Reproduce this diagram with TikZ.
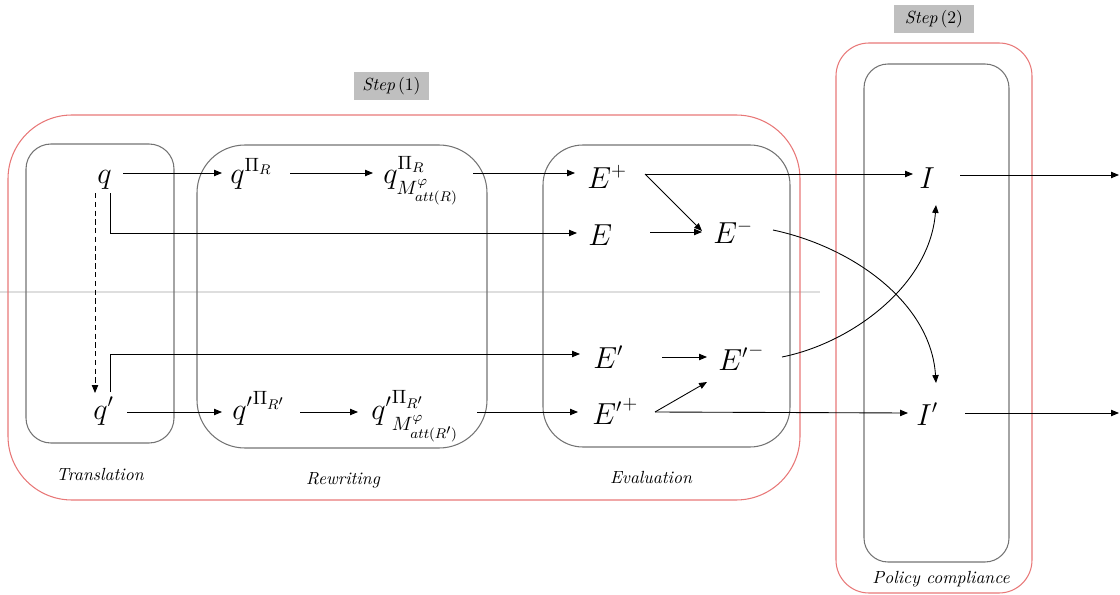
\documentclass[tikz,border=0pt]{standalone}
\usetikzlibrary{arrows.meta,calc}
\definecolor{boxgray}{RGB}{115,115,115}
\definecolor{boxred}{RGB}{232,120,120}
\definecolor{labelgray}{RGB}{191,191,191}
\definecolor{faintline}{RGB}{222,222,222}
\begin{document}
\begin{tikzpicture}[x=0.02cm,y=-0.02cm,
  mathnode/.style={anchor=base west, inner sep=0pt, font=\fontsize{16}{18}\selectfont},
  arr/.style={line width=0.5pt, -{Triangle[length=4.5pt,width=3.6pt]}},
  dasharr/.style={arr, dash pattern=on 3pt off 2pt},
  graybox/.style={draw=boxgray, line width=0.6pt},
  redbox/.style={draw=boxred, line width=0.6pt},
  caption/.style={font=\fontsize{10}{12}\selectfont\itshape, inner sep=0pt},
  steplabel/.style={fill=labelgray, minimum width=1.5cm, minimum height=0.56cm, inner sep=0pt, font=\fontsize{10}{12}\selectfont}]
\useasboundingbox (0,0) rectangle (1120,595);

% faint horizontal line
\draw[faintline, line width=0.6pt] (0,292) -- (820,292);

% containers
\draw[redbox, rounded corners=1.28cm] (8,115) rectangle (800,500);
\draw[redbox, rounded corners=0.66cm] (836,43) rectangle (1032,593);
\draw[graybox, rounded corners=0.48cm] (864,64) rectangle (1009,562);
\draw[graybox, rounded corners=0.5cm] (26,144) rectangle (174,443);
\draw[graybox, rounded corners=0.96cm] (197,145) rectangle (487,448);
\draw[graybox, rounded corners=0.8cm] (543,145) rectangle (790,447);

% step labels
\node[steplabel] (s1) at (391.5,86) {\textit{Step}\,(1)};
\node[steplabel, minimum width=1.6cm] (s2) at (934,19) {\textit{Step}\,(2)};

% captions
\node[caption] (tl) at (100,474) {Translation};
\node[caption] (rw) at (343,480) {Rewriting};
\node[caption] (ev) at (651,477) {Evaluation};
\node[caption] (pc) at (941,579) {Policy compliance};

% math nodes
\node[mathnode] (q) at (97,183) {$q$};
\node[mathnode] (qp) at (230,183) {$q^{\Pi_R}$};
\node[mathnode] (qm) at (383,183) {$q^{\Pi_R}_{\rule{0pt}{11pt}M^{\varphi}_{att(R)}}$};
\node[mathnode] (Ep) at (587,188) {$E^{+}$};
\node[mathnode] (I) at (919,188) {$I$};
\node[mathnode] (E) at (588,245) {$E$};
\node[mathnode] (Em) at (713,243) {$E^{-}$};
\node[mathnode] (Epr) at (593,368) {$E'$};
\node[mathnode] (Epm) at (718,370) {${E'}^{-}$};
\node[mathnode] (qpr) at (93,419) {$q'$};
\node[mathnode] (qpp) at (232,419) {${q'}^{\Pi_{R'}}$};
\node[mathnode] (qpm) at (371,419) {${q'}^{\Pi_{R'}}_{\rule{0pt}{11pt}M^{\varphi}_{att(R')}}$};
\node[mathnode] (Epp) at (592,424) {${E'}^{+}$};
\node[mathnode] (Ip) at (916,425) {$I'$};

\coordinate (ep) at ($(Ep.base west)+(58,-14)$);
\coordinate (epp) at ($(Epp.base west)+(63,-12)$);
\coordinate (o1) at (1119,175);
\coordinate (o2) at (1119,413);

% top row
\draw[arr] ($(q.base west)+(26,-10)$) -- ($(qp.base west)+(-8,-10)$);
\draw[arr] ($(qp.base west)+(60,-10)$) -- ($(qm.base west)+(-10,-10)$);
\draw[arr] ($(qm.base west)+(90,-10)$) -- ($(Ep.base west)+(-12,-15)$);
\draw[arr] (ep) -- ($(I.base west)+(-6,-14)$);
\draw[arr] (ep) -- ($(Em.base west)+(-11,-12)$);
\draw[arr] ($(q.base west)+(13,10)$) |- ($(E.base west)+(-11,-12)$);
\draw[arr] ($(E.base west)+(62,-13)$) -- ($(Em.base west)+(-11,-11)$);
\draw[arr] ($(I.base west)+(41,-13)$) -- (o1);

% crossing curves
\draw[arr] ($(Em.base west)+(60,-13)$) .. controls +(80,17) and +(-5,-80) .. ($(Ip.base west)+(20,-42)$);
\draw[arr] ($(Epm.base west)+(64,-13)$) .. controls +(70,-14) and +(-6,80) .. ($(I.base west)+(17,17)$);

% translation
\draw[dasharr] ($(q.base west)+(-2,10)$) -- ($(qpr.base west)+(2,-26)$);
\draw[arr] ($(qpr.base west)+(17,-27)$) |- ($(Epr.base west)+(-13,-14)$);
\draw[arr] ($(Epr.base west)+(69,-11)$) -- ($(Epm.base west)+(-11,-13)$);

% bottom row
\draw[arr] ($(qpr.base west)+(34,-7)$) -- ($(qpp.base west)+(-10,-7)$);
\draw[arr] ($(qpp.base west)+(68,-7)$) -- ($(qpm.base west)+(-13,-7)$);
\draw[arr] ($(qpm.base west)+(106,-7)$) -- ($(Epp.base west)+(-14,-12)$);
\draw[arr] (epp) -- ($(Ip.base west)+(-8,-12)$);
\draw[arr] (epp) -- ($(Epm.base west)+(-11,12)$);
\draw[arr] ($(Ip.base west)+(49,-12)$) -- (o2);
\end{tikzpicture}
\end{document}
